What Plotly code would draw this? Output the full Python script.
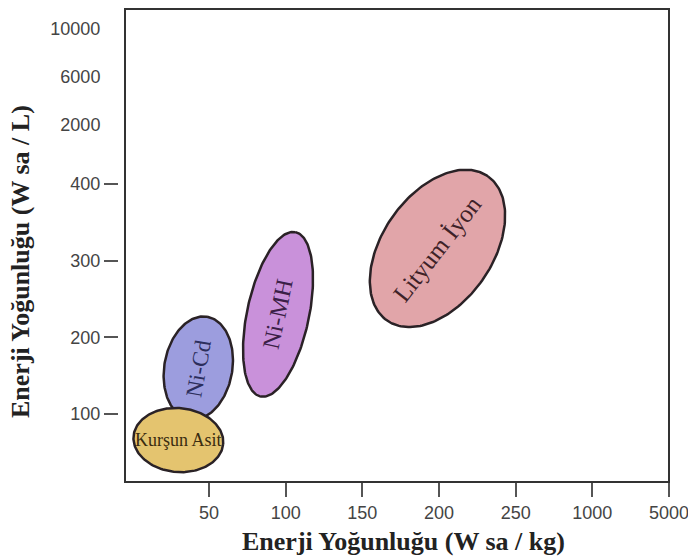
import numpy as np
import plotly.graph_objects as go

# ---------------- data ----------------
batteries = ["Kurşun Asit", "Ni-Cd", "Ni-MH", "Lityum İyon"]
energy_wh_kg = [30, 43, 95, 199]      # ellipse centres, gravimetric
energy_wh_l = [66, 160, 230, 316]     # ellipse centres, volumetric

x_tick_vals = [50, 100, 150, 200, 250, 300, 350]
x_tick_text = ["50", "100", "150", "200", "250", "1000", "5000"]
y_tick_vals = [100, 200, 300, 400]
y_tick_text = ["100", "200", "300", "400"]
y_upper_vals = [477, 540, 602]
y_upper_text = ["2000", "6000", "10000"]

# ---------------- styles ----------------
fill_colors = ["#E4C46F", "#9C9DDE", "#C991DA", "#E1A5A9"]
text_colors = ["#3a2c10", "#2c2e5c", "#3b1f47", "#3e2228"]
semi_major_px = [45, 52, 84, 88]
semi_minor_px = [32, 34, 31, 55]
tilt_deg = [95, 10, 12, 35]          # clockwise from vertical
text_angle = [0, -80, -78, -52]
text_size = [18, 23, 24, 25]
draw_order = [1, 0, 2, 3]

W, H = 688, 557
ML, MR, MT, MB = 110, 19, 9, 75
PLOT_L, PLOT_R = 125, 669
XR = [-4.8, 350]
YR = [11.3, 628.3]
pw = W - ML - MR
ph = H - MT - MB
sx = (PLOT_R - PLOT_L) / (XR[1] - XR[0])   # px per x unit
sy = ph / (YR[1] - YR[0])                   # px per y unit

fig = go.Figure()
t = np.linspace(0, 2 * np.pi, 200)
for i in draw_order:
    phi = np.radians(tilt_deg[i])
    u = (np.sin(phi), np.cos(phi))
    v = (np.cos(phi), -np.sin(phi))
    a, b = semi_major_px[i], semi_minor_px[i]
    px = a * np.cos(t) * u[0] + b * np.sin(t) * v[0]
    py = a * np.cos(t) * u[1] + b * np.sin(t) * v[1]
    fig.add_trace(go.Scatter(
        x=energy_wh_kg[i] + px / sx, y=energy_wh_l[i] + py / sy,
        mode="lines", fill="toself", fillcolor=fill_colors[i],
        line=dict(color="#2a2226", width=2.5), hoverinfo="skip",
        showlegend=False))
    fig.add_annotation(x=energy_wh_kg[i], y=energy_wh_l[i], text=batteries[i],
                       showarrow=False, textangle=text_angle[i],
                       font=dict(family="Liberation Serif", size=text_size[i],
                                 color=text_colors[i]))

# invisible trace for second y axis
fig.add_trace(go.Scatter(x=[None], y=[None], yaxis="y2", showlegend=False))

tick_font = dict(family="Liberation Sans", size=18, color="#444444")
fig.update_layout(
    width=W, height=H, margin=dict(l=ML, r=MR, t=MT, b=MB, autoexpand=False),
    paper_bgcolor="white", plot_bgcolor="white",
    xaxis=dict(domain=[(PLOT_L - ML) / pw, 1], range=XR, tickvals=x_tick_vals,
               ticktext=x_tick_text, ticks="outside", ticklen=14, tickwidth=1.5,
               tickcolor="#555555", showgrid=False, zeroline=False,
               showline=False, tickfont=tick_font, fixedrange=True,
               automargin=False, ticklabeloverflow="allow"),
    yaxis=dict(range=YR, anchor="free", position=(118 - ML) / pw,
               tickvals=y_tick_vals, ticktext=y_tick_text, ticks="outside",
               ticklen=14, tickwidth=1.5, tickcolor="#555555",
               showgrid=False, zeroline=False, showline=False,
               tickfont=tick_font, automargin=False),
    yaxis2=dict(range=YR, overlaying="y", anchor="free", position=(118 - ML) / pw,
                tickvals=y_upper_vals, ticktext=y_upper_text, ticks="outside",
                ticklen=14, tickcolor="rgba(0,0,0,0)", showgrid=False,
                zeroline=False, showline=False, tickfont=tick_font,
                automargin=False),
)

fig.add_shape(type="rect", xref="x domain", yref="y domain", x0=0, x1=1, y0=0, y1=1,
              line=dict(color="#333333", width=2), fillcolor="rgba(0,0,0,0)")

title_font = dict(family="Liberation Serif", size=26, color="#222222")
fig.add_annotation(text="<b>Enerji Yoğunluğu (W sa / kg)</b>", xref="paper", yref="paper",
                   x=(403 - ML) / pw, y=(H - MB - 541) / ph, xanchor="center",
                   yanchor="middle", showarrow=False, font=title_font)
fig.add_annotation(text="<b>Enerji Yoğunluğu (W sa / L)</b>", xref="paper", yref="paper",
                   x=(20 - ML) / pw, y=(H - MB - 262) / ph, xanchor="center",
                   yanchor="middle", showarrow=False, textangle=-90, font=title_font)

fig.write_html("out.html", config={"displayModeBar": False},
               post_script="document.body.style.margin='0';document.body.style.overflow='hidden';")
